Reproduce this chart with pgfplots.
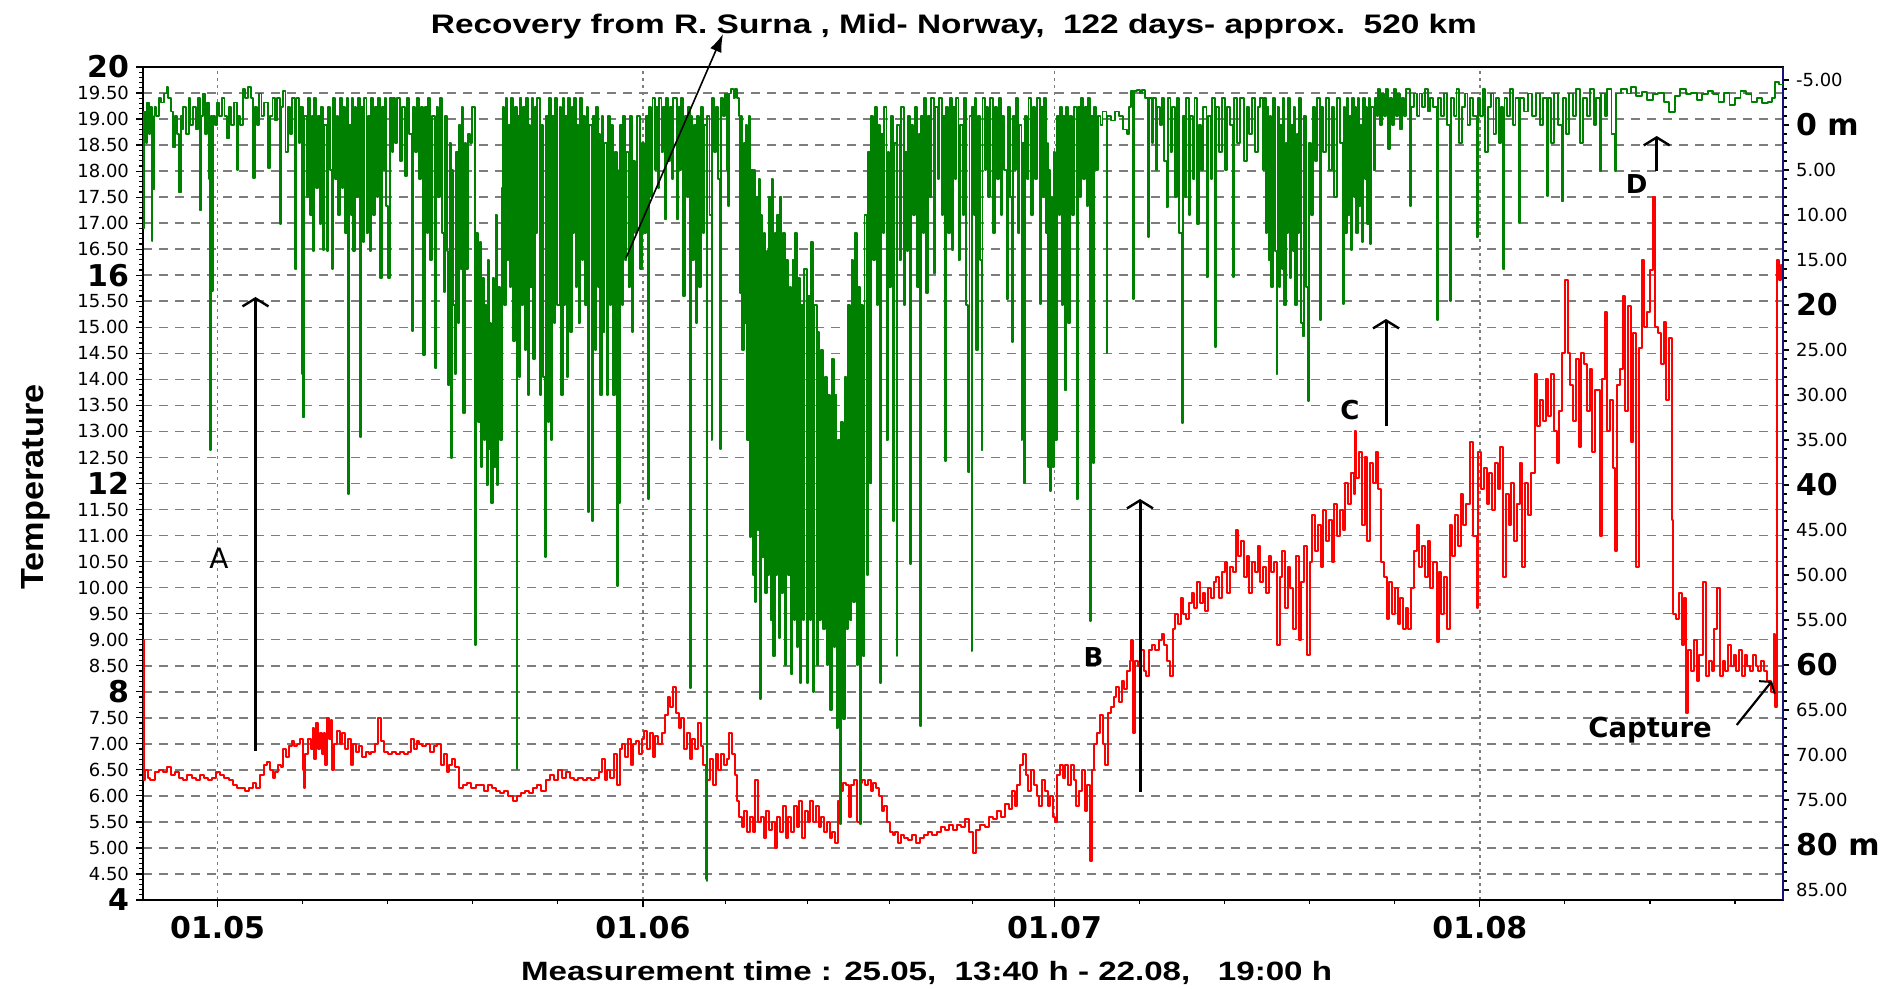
\documentclass[border=0pt]{standalone}
\usepackage{pgfplots}
\pgfplotsset{compat=1.18}
\usepackage{pgfplotstable}
\usepackage{graphicx}
\usepackage{fontspec}
\setmainfont{Liberation Sans}
\newfontfamily\dvs{DejaVu Sans}
\usetikzlibrary{arrows.meta}
\definecolor{pgreen}{RGB}{0,128,0}
\definecolor{pred}{RGB}{255,0,0}
\definecolor{navyax}{RGB}{20,20,120}
\definecolor{gridgray}{RGB}{125,125,125}
\newcommand{\rl}[1]{{\dvs\fontsize{9}{10}\selectfont #1}}
\newcommand{\bl}[1]{{\dvs\bfseries\fontsize{15}{16}\selectfont #1}}

% depth (m) of the tag, right axis
\pgfplotstableread{
t d
-5.44 0.5
-5.40 11.5
-5.35 -1.5
-5.25 2
-5.15 -2.5
-5.00 1
-4.90 -2
-4.81 12.9
-4.75 -1
-4.69 7.1
-4.60 -2
-4.50 -1
-4.30 -3
-4.10 -2.5
-3.90 -3.5
-3.72 -4.2
-3.60 -3
-3.40 -1.5
-3.23 2.5
-3.10 -1
-2.95 1
-2.79 7.5
-2.70 -1
-2.60 0.5
-2.50 -2
-2.30 1
-2.10 -3
-2.00 0
-1.80 -2
-1.60 0.5
-1.45 -3
-1.29 9.5
-1.20 -1
-1.05 -3.5
-0.95 1
-0.80 -2.5
-0.65 6
-0.56 36.1
-0.50 -1
-0.44 18.4
-0.35 -1
-0.20 0
-0.05 -2.5
0.10 -1
0.30 -3
0.50 -1
0.66 1.5
0.80 -2
1.00 0
1.20 -2.5
1.38 5
1.50 -1
1.65 0
1.87 -4
2.00 -3
2.20 -4.2
2.40 -3
2.60 5.9
2.70 -2
2.84 0
3.00 -3.5
3.20 -1
3.40 -2.5
3.64 4.8
3.80 -1
4.00 -3
4.15 -0.5
4.30 -3
4.54 11
4.65 -2
4.79 -3.8
4.95 3
5.10 -2
5.30 1
5.45 -3
5.64 16
5.75 -3
5.90 2
6.00 -2
6.12 27.7
6.18 -2
6.24 32.5
6.32 -1
6.49 8
6.60 -3
6.75 10
6.85 -1
6.95 14
7.05 -3
7.20 7
7.30 -1
7.45 11
7.55 -2
7.65 13.9
7.75 0
7.94 14
8.05 -2
8.20 5
8.31 16
8.40 -3
8.55 6
8.70 -1
8.80 10
8.92 -3
9.05 7
9.15 -2
9.30 12
9.40 -3
9.52 41
9.60 0
9.70 10
9.80 -3
9.89 14
10.00 -2
10.10 8
10.20 -3
10.37 34.7
10.45 -2
10.60 13
10.70 -3
10.85 12
10.95 -1
11.10 14
11.20 -3
11.35 10
11.50 -2
11.60 8
11.70 -3
11.83 17
11.95 -2
12.10 5
12.20 -3
12.30 9
12.44 17
12.55 -3
12.70 3
12.80 -3
12.95 2
13.10 -3
13.30 4
13.45 -2
13.65 5.7
13.80 -3
13.95 1
14.14 22.9
14.25 -2
14.40 3
14.55 -3
14.70 6
14.85 -2
14.99 25.6
15.10 -2
15.23 12
15.35 -3
15.50 15
15.60 -1
15.84 27
15.95 -2
16.05 8
16.20 -3
16.35 12
16.52 18.6
16.60 -1
16.70 14
16.81 28.9
16.90 2
16.98 37
17.05 5
17.15 20
17.30 27.7
17.40 3
17.50 22
17.60 0
17.70 16
17.80 -2
17.91 32
18.00 2
18.10 16
18.27 1
18.40 2
18.55 -2
18.76 57.8
18.85 12
19.00 33
19.10 13
19.20 38
19.30 17
19.40 35
19.50 20
19.60 40
19.70 15
19.75 36
19.85 22
19.95 42
20.05 17
20.15 38
20.25 10
20.35 40
20.45 18
20.55 35
20.70 7
20.82 -2
20.90 20
21.00 -3
21.10 15
21.20 0
21.30 18
21.40 -3
21.55 24
21.65 -2
21.79 71.6
21.85 -1
21.95 28
22.05 -3
22.15 20
22.28 -2
22.40 25
22.50 -3
22.60 30
22.70 0
22.80 18
22.90 -3
23.00 26
23.10 -2
23.20 12
23.30 -3
23.49 30
23.60 0
23.70 28
23.86 48
23.95 -1
24.05 33
24.15 -3
24.30 35
24.40 -1
24.50 22
24.60 -3
24.75 20
24.95 -2
25.05 30
25.15 -3
25.25 20
25.35 -1
25.45 28
25.55 -3
25.68 23
25.80 -2
25.90 12
26.00 -3
26.10 18
26.20 0
26.30 22
26.40 -3
26.55 15
26.65 -1
26.80 20
26.90 -2
27.01 43
27.10 0
27.26 44
27.38 -1
27.50 25
27.60 -2
27.70 18
27.80 1
27.90 30
28.00 -1
28.11 23
28.20 2
28.35 30
28.45 -1
28.60 20
28.70 0
28.85 30
28.95 3
29.08 51.2
29.15 5
29.20 42
29.30 0
29.45 20
29.55 -1
29.70 15
29.80 3
29.95 18
30.05 -1
30.17 23
30.30 4
30.45 12
30.55 -1
30.78 16
30.90 2
31.05 12
31.20 -1
31.39 41.6
31.45 -2
31.60 8
31.70 -3
31.85 5
31.95 -2
32.10 7
32.20 -3
32.35 3
32.45 -2
32.60 10.5
32.70 -3
32.85 4
32.95 -2
33.10 6
33.20 -3
33.45 10.5
33.55 -2
33.70 5
33.80 -3
33.94 19
34.05 -1
34.20 8
34.30 -2
34.42 62.6
34.50 -1
34.60 15
34.70 0
34.85 22
34.95 -1
35.10 18
35.20 -2
35.35 12
35.45 0
35.64 84
35.70 -1
35.85 10
36.00 35
36.05 -3
36.20 3
36.30 -2
36.45 6
36.61 36
36.70 -3
36.85 -1
37.00 -3.5
37.10 5
37.22 9
37.30 -3.5
37.45 -4
37.60 -3
37.70 -4
37.85 -3
38.00 -1
38.07 18.7
38.15 -1
38.25 25
38.35 2
38.43 22
38.50 0
38.60 35
38.70 -1
38.80 45.8
38.90 5
39.00 50
39.10 5
39.16 53
39.25 8
39.35 45
39.45 6
39.53 63.8
39.60 10
39.70 48
39.80 12
39.90 52
40.01 14
40.10 50
40.20 8
40.30 55
40.40 6
40.50 59
40.60 12
40.70 50
40.80 10
40.90 57
41.00 8
41.10 52
41.23 12
41.35 60
41.45 15
41.55 50
41.70 18
41.80 61
41.90 15
42.00 55
42.10 12
42.20 58
42.30 17
42.44 62
42.55 20
42.65 55
42.75 16
42.93 62
43.05 19
43.15 55
43.25 13
43.40 63
43.50 20
43.66 60
43.75 23
43.85 55
43.95 25
44.14 56
44.25 28
44.40 60
44.50 30
44.63 65
44.75 26
44.90 58
45.00 30
45.11 67
45.20 35
45.36 77.7
45.45 33
45.60 66
45.70 28
45.84 56
45.95 20
46.10 55
46.20 15
46.33 53
46.45 12
46.60 60
46.70 18
46.82 77.7
46.90 20
47.06 59
47.15 10
47.30 50
47.40 3
47.54 39.8
47.65 -1
47.80 15
47.90 -2
48.05 20
48.15 0
48.27 62
48.35 1
48.50 12
48.60 -2
48.75 35
48.85 3
48.95 18
49.05 -1
49.20 44
49.30 2
49.49 59
49.55 0
49.70 15
49.80 -2
50.00 20
50.10 3
50.25 14
50.35 -1
50.46 48.8
50.55 0
50.70 10
50.80 -2
51.00 18
51.10 1
51.19 66.8
51.25 -1
51.40 12
51.50 -3
51.65 18.7
51.75 -1
51.90 8
52.00 -3
52.20 16.5
52.30 -2
52.50 6
52.60 -3
52.80 10
52.90 -1
53.01 37.3
53.10 -2
53.25 12
53.35 -3
53.50 13.9
53.60 -2
53.75 6
53.85 -3
54.00 15
54.10 0
54.30 10
54.40 -3
54.55 20
54.71 38.6
54.80 -1
54.95 58.4
55.00 -2
55.10 10
55.20 -3
55.30 25
55.40 -1
55.55 15
55.68 36.1
55.75 -3
55.90 5
56.00 -2
56.15 8
56.30 -3
56.53 12
56.65 -2
56.80 6
56.95 -3
57.10 10
57.20 -1
57.35 5
57.50 19.3
57.60 -2
57.75 8
57.87 24.1
57.95 -1
58.10 5
58.20 -3
58.35 12
58.45 0
58.59 35
58.65 2
58.79 39.8
58.85 -1
59.00 6
59.10 -3
59.30 10
59.40 -2
59.60 6
59.70 -3
59.93 19.9
60.00 -2
60.15 8
60.25 -3
60.40 12
60.50 2
60.54 38
60.60 5
60.70 40.7
60.75 8
60.85 38
60.95 3
61.05 35
61.15 -1
61.30 10
61.40 -2
61.55 20
61.65 -1
61.75 29.5
61.85 -2
62.00 22
62.10 -1
62.25 10
62.40 -2
62.60 41.6
62.70 -2
62.85 8
62.95 -3
63.10 6
63.20 -2
63.35 9
63.45 -3
63.58 55.1
63.65 -1
63.82 37.6
63.90 -2
64.05 5
64.20 -1
64.35 0
64.50 -1.5
64.79 25.3
64.85 -1
65.10 -0.5
65.40 -1.5
65.70 -1
66.00 0.5
66.25 1
66.40 -2
66.60 -3.8
66.73 19.3
66.80 -3.8
67.00 -3.9
67.20 -3.5
67.40 -3.9
67.60 -3
67.83 12.4
67.90 -3
68.10 2
68.20 -3
68.40 5
68.50 -2
68.70 0
68.85 -3
69.00 4
69.16 9.1
69.25 -3
69.45 3
69.55 -2
69.75 8
69.90 -3
70.10 12
70.26 33.1
70.35 -1
70.50 8
70.60 -3
70.80 10
70.90 -1
71.10 6
71.20 -3
71.40 11
71.50 0
71.70 5
71.80 -2
72.08 16.9
72.20 -1
72.40 6
72.50 -3
72.69 24.7
72.80 -2
73.00 3
73.20 -3
73.40 5
73.60 -2
73.80 0
74.02 16.9
74.10 -3
74.30 2
74.50 -3
74.80 4
75.00 -2
75.20 1
75.40 -3
75.60 3
75.80 -2
76.00 -3
76.21 5
76.30 -3
76.40 12
76.50 -2
76.60 15
76.70 -1
76.80 18
76.90 -3
77.05 14
77.18 27.7
77.25 -2
77.35 18
77.45 0
77.55 16
77.65 -3
77.75 20
77.85 2
77.95 12
78.05 -3
78.15 17
78.25 0
78.35 14
78.45 -2
78.55 20
78.65 1
78.75 12
78.85 -3
78.95 22
79.12 23.5
79.20 -1
79.30 18
79.49 30.7
79.55 2
79.70 10
79.85 -2
80.00 4
80.15 -3
80.34 21.7
80.45 -2
80.60 3
80.80 -3
81.00 5
81.20 -2
81.40 8
81.60 -3
81.80 2
82.04 19.9
82.10 -2
82.20 12
82.30 -3
82.40 10
82.50 -1
82.60 13.9
82.70 -3
82.80 8
82.90 -2
83.00 12
83.10 -3
83.20 9
83.30 0
83.40 13
83.50 -3
83.60 6
83.70 -2
83.80 11
83.90 -3
84.00 13.2
84.10 -2
84.25 5
84.35 -3
84.50 -1
84.60 -4
84.75 0
84.85 -3.5
85.00 -1
85.15 -4
85.33 2.7
85.45 -3
85.60 0
85.75 -4
85.90 -1
86.05 -3.5
86.20 0.5
86.35 -3
86.50 -1
86.65 -4
86.90 9
87.00 -2
87.20 -3.5
87.39 -1
87.60 -3.5
87.80 -2
88.00 -4
88.20 -1.5
88.40 -3
88.60 -2
88.85 21.7
88.95 -3
89.20 -1
89.40 -3.5
89.60 0
89.82 19.6
89.90 -3
90.10 -1
90.30 -4
90.50 2
90.70 -2
90.90 -3.5
91.10 0
91.30 -3
91.50 -1
91.76 12.4
91.85 -3
92.00 -1
92.20 -4
92.40 3
92.60 -2
92.80 -3.5
93.00 1
93.20 -3
93.40 2
93.55 -2
93.71 16
93.80 -3
94.00 -1
94.20 -4
94.40 0
94.60 -3
94.87 10.9
94.95 -3
95.20 -1.5
95.50 -3.5
95.80 -1
96.10 -3.5
96.40 0
96.60 -3
96.87 7.9
96.95 -3
97.20 2
97.40 -3.5
97.70 0
97.96 8.5
98.05 -3
98.30 1
98.50 -3.5
98.80 -1
99.00 -4
99.30 2
99.50 -3
99.80 -1
100.00 -4
100.30 0
100.50 -3
100.75 5.1
100.85 -3.5
101.10 -1
101.30 -4
101.60 1
101.85 5.1
101.95 -3.5
102.30 -4
102.70 -3.5
103.00 -4.2
103.40 -3.2
103.80 -3.7
104.20 -2.8
104.60 -3.4
105.00 -3.6
105.40 -2.6
105.80 -1.4
106.20 -3.2
106.60 -4
107.00 -3.4
107.40 -3.6
107.80 -2.8
108.20 -3.4
108.60 -3.8
109.00 -3.4
109.40 -2.6
109.80 -3.6
110.20 -2.2
110.60 -3
111.00 -3.8
111.40 -3.4
111.80 -2.6
112.20 -3
112.60 -2.4
113.00 -2.6
113.30 -3
113.50 -4.8
113.80 -4.5
114.10 -4.4
}\greendata

% temperature (deg C), left axis
\pgfplotstableread{
t T
-5.44 9.0
-5.38 6.3
-5.30 6.5
-5.10 6.35
-4.90 6.3
-4.60 6.45
-4.30 6.5
-4.00 6.45
-3.70 6.55
-3.40 6.4
-3.10 6.45
-2.80 6.35
-2.50 6.3
-2.20 6.4
-1.90 6.35
-1.60 6.3
-1.30 6.4
-1.00 6.35
-0.70 6.3
-0.40 6.35
-0.10 6.45
0.20 6.4
0.50 6.35
0.80 6.3
1.10 6.2
1.40 6.15
1.70 6.15
2.00 6.1
2.30 6.15
2.60 6.25
2.80 6.15
3.10 6.4
3.40 6.6
3.60 6.65
3.80 6.5
4.00 6.35
4.20 6.45
4.40 6.6
4.60 6.55
4.80 6.9
5.00 6.75
5.20 6.95
5.40 7.05
5.60 6.95
5.80 7.0
6.00 7.1
6.20 6.5
6.30 6.15
6.40 6.8
6.60 7.1
6.80 6.9
6.95 7.3
7.05 6.7
7.20 7.4
7.30 6.9
7.45 7.2
7.60 6.8
7.75 7.2
7.85 6.6
8.00 7.5
8.10 7.1
8.25 7.45
8.35 6.5
8.50 7.0
8.70 7.25
8.90 7.0
9.10 7.2
9.30 6.9
9.50 7.1
9.70 6.6
9.90 7.0
10.10 6.85
10.30 6.95
10.50 6.75
10.80 6.85
11.00 6.8
11.20 6.85
11.50 7.0
11.70 7.5
11.90 7.05
12.10 6.85
12.40 6.8
12.70 6.85
13.00 6.8
13.30 6.85
13.60 6.8
13.90 6.85
14.10 7.1
14.30 6.9
14.50 7.05
14.70 7.0
14.90 6.95
15.20 7.0
15.50 6.85
15.80 6.95
16.00 7.0
16.30 6.6
16.50 6.8
16.70 6.45
16.90 6.6
17.10 6.7
17.30 6.55
17.60 6.15
17.90 6.2
18.20 6.25
18.50 6.15
18.80 6.2
19.10 6.2
19.40 6.1
19.70 6.2
20.00 6.15
20.30 6.1
20.60 6.05
20.90 6.1
21.20 6.0
21.50 5.9
21.80 6.0
22.10 6.05
22.40 6.1
22.70 6.05
23.00 6.15
23.30 6.2
23.60 6.1
23.90 6.3
24.20 6.4
24.50 6.3
24.80 6.5
25.10 6.35
25.40 6.45
25.70 6.35
26.00 6.3
26.30 6.35
26.60 6.3
26.90 6.35
27.20 6.3
27.50 6.35
27.80 6.45
28.00 6.7
28.20 6.3
28.40 6.5
28.60 6.35
28.90 6.8
29.10 6.2
29.30 6.9
29.50 7.0
29.70 6.75
29.90 7.1
30.10 6.6
30.30 7.0
30.50 7.05
30.70 6.8
30.90 7.1
31.10 7.25
31.30 6.9
31.50 7.2
31.70 6.75
31.90 7.15
32.10 7.0
32.40 7.2
32.60 7.55
32.80 7.9
33.00 7.7
33.20 8.1
33.40 7.6
33.60 7.3
33.80 7.5
34.00 6.9
34.20 7.2
34.40 6.7
34.60 7.1
34.80 6.9
35.00 7.4
35.20 6.95
35.40 6.6
35.60 4.4
35.70 6.3
35.90 6.7
36.10 6.2
36.30 6.8
36.50 6.5
36.70 6.8
36.90 6.6
37.10 6.7
37.30 7.2
37.50 6.8
37.70 6.4
37.85 5.9
38.00 5.6
38.20 5.4
38.40 5.7
38.60 5.3
38.80 5.6
39.00 5.3
39.20 6.3
39.40 5.5
39.60 5.6
39.80 5.2
40.00 5.7
40.20 5.35
40.40 5.5
40.60 5.0
40.80 5.6
41.00 5.3
41.20 5.8
41.40 5.2
41.60 5.6
41.80 5.3
42.00 5.8
42.20 5.4
42.40 5.9
42.60 5.2
42.80 5.7
43.00 5.5
43.20 5.9
43.40 5.5
43.60 5.8
43.80 5.4
44.00 5.6
44.20 5.3
44.40 5.5
44.60 5.2
44.80 5.3
45.00 5.1
45.20 5.9
45.40 6.1
45.60 6.25
45.80 6.2
46.00 5.6
46.20 6.2
46.40 6.3
46.60 5.5
46.80 6.25
47.00 6.3
47.20 6.2
47.40 6.3
47.60 6.1
47.80 6.25
48.00 6.15
48.20 6.0
48.40 5.7
48.60 5.8
48.80 5.5
49.00 5.3
49.20 5.25
49.40 5.3
49.60 5.1
49.80 5.25
50.00 5.2
50.30 5.15
50.60 5.25
50.90 5.1
51.20 5.2
51.50 5.25
51.80 5.3
52.10 5.25
52.40 5.3
52.70 5.4
53.00 5.35
53.30 5.45
53.60 5.35
53.90 5.45
54.20 5.4
54.50 5.55
54.80 5.3
55.07 4.9
55.30 5.35
55.60 5.45
55.90 5.4
56.20 5.6
56.50 5.55
56.80 5.7
57.10 5.6
57.40 5.85
57.70 5.75
57.90 6.1
58.10 5.8
58.30 6.2
58.50 6.6
58.70 6.8
58.90 6.4
59.10 6.1
59.30 6.5
59.50 6.2
59.70 6.0
59.90 5.8
60.10 6.3
60.30 6.1
60.50 5.8
60.70 6.0
60.90 5.6
61.05 5.5
61.20 6.4
61.40 6.6
61.60 6.35
61.80 6.6
62.00 6.2
62.20 6.6
62.40 6.3
62.60 5.8
62.80 6.1
63.00 6.5
63.20 5.7
63.40 6.2
63.58 4.75
63.70 6.5
63.90 7.0
64.10 7.2
64.30 7.55
64.50 7.0
64.70 6.6
64.90 7.6
65.10 7.7
65.30 7.9
65.50 8.1
65.70 7.8
65.90 8.2
66.10 8.05
66.30 8.4
66.50 8.6
66.60 9.0
66.75 7.2
66.90 8.6
67.10 8.5
67.30 8.8
67.50 8.4
67.70 8.3
67.90 8.8
68.10 8.9
68.30 8.8
68.60 9.0
68.80 9.1
69.00 8.9
69.20 8.6
69.40 8.3
69.60 9.2
69.80 9.5
70.00 9.3
70.20 9.8
70.40 9.5
70.60 9.4
70.80 9.7
71.00 9.9
71.20 9.6
71.40 10.1
71.60 9.7
71.80 9.9
72.00 9.55
72.20 10.0
72.40 9.8
72.60 10.1
72.80 10.2
73.00 9.8
73.20 10.3
73.40 10.5
73.60 9.9
73.80 10.4
74.00 10.3
74.20 11.1
74.40 10.6
74.60 10.9
74.80 10.2
75.00 10.6
75.20 9.9
75.40 10.5
75.60 10.3
75.80 10.8
76.00 10.1
76.20 10.4
76.40 9.9
76.60 10.6
76.80 10.3
77.00 10.5
77.20 8.9
77.40 10.2
77.60 10.7
77.80 9.6
78.00 10.4
78.20 10.0
78.40 9.2
78.60 10.6
78.80 9.0
79.00 10.1
79.20 10.8
79.40 8.7
79.60 10.5
79.80 11.4
80.00 10.7
80.20 11.2
80.40 10.4
80.60 11.5
80.80 10.9
81.00 11.3
81.20 10.5
81.40 11.6
81.60 11.0
81.80 11.5
82.00 11.1
82.20 12.0
82.40 11.6
82.60 12.2
82.80 11.8
82.90 13.0
83.00 12.1
83.20 12.6
83.40 11.2
83.60 12.5
83.80 10.9
84.00 12.4
84.20 12.0
84.40 12.6
84.60 11.9
84.80 10.5
85.00 10.2
85.20 9.4
85.40 10.1
85.60 9.5
85.80 10.0
86.00 9.3
86.20 9.8
86.40 9.2
86.60 9.6
86.80 9.2
87.00 10.0
87.20 10.7
87.40 11.2
87.60 10.4
87.80 10.8
88.00 10.2
88.20 10.9
88.40 10.0
88.60 10.5
88.85 8.95
89.00 10.3
89.20 9.5
89.40 10.2
89.60 9.2
89.80 11.2
90.00 10.6
90.20 11.4
90.40 10.8
90.60 11.8
90.80 11.2
91.00 11.6
91.30 12.8
91.50 11.0
91.76 9.6
91.90 12.6
92.10 11.9
92.30 12.3
92.50 11.6
92.70 12.2
92.90 11.5
93.10 12.4
93.30 11.9
93.50 12.7
93.71 10.2
93.90 11.8
94.10 11.2
94.30 12.0
94.50 10.9
94.70 11.6
94.90 12.4
95.10 10.4
95.30 12.0
95.50 11.4
95.70 12.2
96.00 14.1
96.20 13.1
96.40 13.6
96.60 13.2
96.80 14.0
97.00 13.3
97.20 14.1
97.40 13.0
97.60 12.4
97.80 13.4
98.00 14.5
98.20 15.9
98.40 14.5
98.60 13.9
98.80 13.2
99.00 14.4
99.20 12.7
99.40 14.5
99.60 14.3
99.80 13.4
100.00 14.2
100.20 12.6
100.40 13.8
100.75 11.0
100.90 14.0
101.10 15.3
101.30 13.0
101.50 13.6
101.70 12.3
101.85 10.7
102.00 13.9
102.20 14.2
102.40 15.6
102.60 13.4
102.80 15.4
103.00 12.8
103.20 14.9
103.40 10.4
103.60 14.6
103.80 16.3
104.00 15.0
104.20 15.3
104.40 16.1
104.60 17.5
104.80 15.0
105.00 14.9
105.20 14.3
105.40 15.1
105.60 13.6
105.80 14.8
106.00 11.3
106.10 9.5
106.30 9.4
106.50 9.9
106.70 8.9
106.90 9.8
107.00 7.6
107.20 8.8
107.40 8.4
107.60 9.0
107.80 8.2
108.00 8.7
108.30 10.1
108.50 8.3
108.70 8.6
108.90 8.4
109.10 9.2
109.30 10.0
109.50 8.3
109.70 8.6
109.90 8.4
110.10 8.9
110.30 8.5
110.50 8.7
110.70 8.4
110.90 8.8
111.10 8.3
111.30 8.7
111.50 8.5
111.70 8.4
111.90 8.7
112.10 8.5
112.30 8.4
112.50 8.6
112.70 8.4
112.90 8.2
113.20 8.0
113.45 9.1
113.55 7.7
113.65 16.3
113.80 15.9
113.95 16.2
114.10 15.8
}\reddata

\begin{document}
\begin{tikzpicture}
\useasboundingbox (-71.5pt,-44.5pt) rectangle (878pt,450pt);
% temperature axis (left)
\begin{axis}[
  at={(0pt,0pt)}, anchor=south west,
  width=820pt, height=416.5pt, scale only axis,
  xmin=-5.44, xmax=114.1, ymin=4, ymax=20,
  xtick={0,31,61,92},
  xticklabels={\bl{01.05},\bl{01.06},\bl{01.07},\bl{01.08}},
  minor xtick={6.2,12.4,18.6,24.8,37,43,49,55,67.2,73.4,79.6,85.8,98.2,104.4,110.6},
  ytick={4,4.5,5,5.5,6,6.5,7,7.5,8,8.5,9,9.5,10,10.5,11,11.5,12,12.5,13,13.5,14,14.5,15,15.5,16,16.5,17,17.5,18,18.5,19,19.5,20},
  yticklabels={\bl{4},\rl{4.50},\rl{5.00},\rl{5.50},\rl{6.00},\rl{6.50},\rl{7.00},\rl{7.50},\bl{8},\rl{8.50},\rl{9.00},\rl{9.50},\rl{10.00},\rl{10.50},\rl{11.00},\rl{11.50},\bl{12},\rl{12.50},\rl{13.00},\rl{13.50},\rl{14.00},\rl{14.50},\rl{15.00},\rl{15.50},\bl{16},\rl{16.50},\rl{17.00},\rl{17.50},\rl{18.00},\rl{18.50},\rl{19.00},\rl{19.50},\bl{20}},
  minor y tick num=4,
  tick align=outside,
  xtick pos=left, ytick pos=left,
  major tick length=3.5pt, minor tick length=1.8pt,
  xmajorgrids, ymajorgrids,
  x grid style={gridgray, line width=0.7pt, dash pattern=on 1.5pt off 2pt},
  y grid style={gridgray, line width=0.8pt, dash pattern=on 4.5pt off 3.5pt},
  axis line style={line width=1pt},
  every tick/.style={black, line width=0.6pt},
  xticklabel style={yshift=-1pt},
]
\addplot[pred, line width=1pt, const plot, line join=round] table[x=t, y=T] {\reddata};
\end{axis}
% depth axis (right, reversed)
\begin{axis}[
  at={(0pt,0pt)}, anchor=south west,
  width=820pt, height=416.5pt, scale only axis,
  xmin=-5.44, xmax=114.1, ymin=-6.44, ymax=86.11, y dir=reverse,
  axis y line*=right, axis x line=none,
  ytick={-5,0,5,10,15,20,25,30,35,40,45,50,55,60,65,70,75,80,85},
  yticklabels={\rl{-5.00},\bl{0 m},\rl{5.00},\rl{10.00},\rl{15.00},\bl{20},\rl{25.00},\rl{30.00},\rl{35.00},\bl{40},\rl{45.00},\rl{50.00},\rl{55.00},\bl{60},\rl{65.00},\rl{70.00},\rl{75.00},\bl{80 m},\rl{85.00}},
  minor y tick num=4,
  tick align=outside,
  major tick length=3pt, minor tick length=1.8pt,
  y axis line style={draw=navyax, line width=1.3pt},
  every tick/.style={black, line width=0.6pt},
]
\addplot[pgreen, line width=0.95pt, const plot, line join=round] table[x=t, y=d] {\greendata};
\end{axis}
% titles and annotations
\node[anchor=base] at (405.5pt,433pt) {\resizebox{523pt}{9.7pt}{\bfseries Recovery from R. Surna , Mid- Norway,\ \ 122 days- approx.\ \ 520 km}};
\node[anchor=base] at (391.8pt,-40.5pt) {\resizebox{405.5pt}{9.6pt}{\bfseries Measurement time : 25.05,\ \ 13:40 h - 22.08,\ \ \ 19:00 h}};
\node[rotate=90] at (-53.5pt,206.5pt) {\resizebox{102.5pt}{11pt}{\bfseries Temperature}};
\draw[line width=0.8pt, -{Latex[length=9pt,width=6pt]}] (241.5pt,321pt) -- (290pt,433pt);
\draw[line width=1.5pt, -{Straight Barb[length=4pt,width=13pt,line width=1.2pt]}] (56.25pt,74.5pt) -- (56.25pt,301.5pt);
\draw[line width=1.5pt, -{Straight Barb[length=4pt,width=13pt,line width=1.2pt]}] (498.5pt,54pt) -- (498.5pt,200.5pt);
\draw[line width=1.5pt, -{Straight Barb[length=4pt,width=13pt,line width=1.2pt]}] (621.5pt,237pt) -- (621.5pt,290.5pt);
\draw[line width=1.5pt, -{Straight Barb[length=4pt,width=13pt,line width=1.2pt]}] (756.85pt,364.5pt) -- (756.85pt,382pt);
\draw[line width=1.1pt, -{Straight Barb[length=3.5pt,width=10pt,line width=1pt]}] (796.85pt,87.5pt) -- (814.5pt,109.5pt);
\node at (38pt,171pt) {{\dvs\fontsize{14}{15}\selectfont A}};
\node at (475.25pt,121.5pt) {{\dvs\bfseries\fontsize{13}{14}\selectfont B}};
\node at (603.5pt,245pt) {{\dvs\bfseries\fontsize{13}{14}\selectfont C}};
\node at (746.85pt,358.2pt) {{\dvs\bfseries\fontsize{13}{14}\selectfont D}};
\node at (753.5pt,84.8pt) {{\dvs\bfseries\fontsize{13.75}{15}\selectfont Capture}};
\end{tikzpicture}
\end{document}
